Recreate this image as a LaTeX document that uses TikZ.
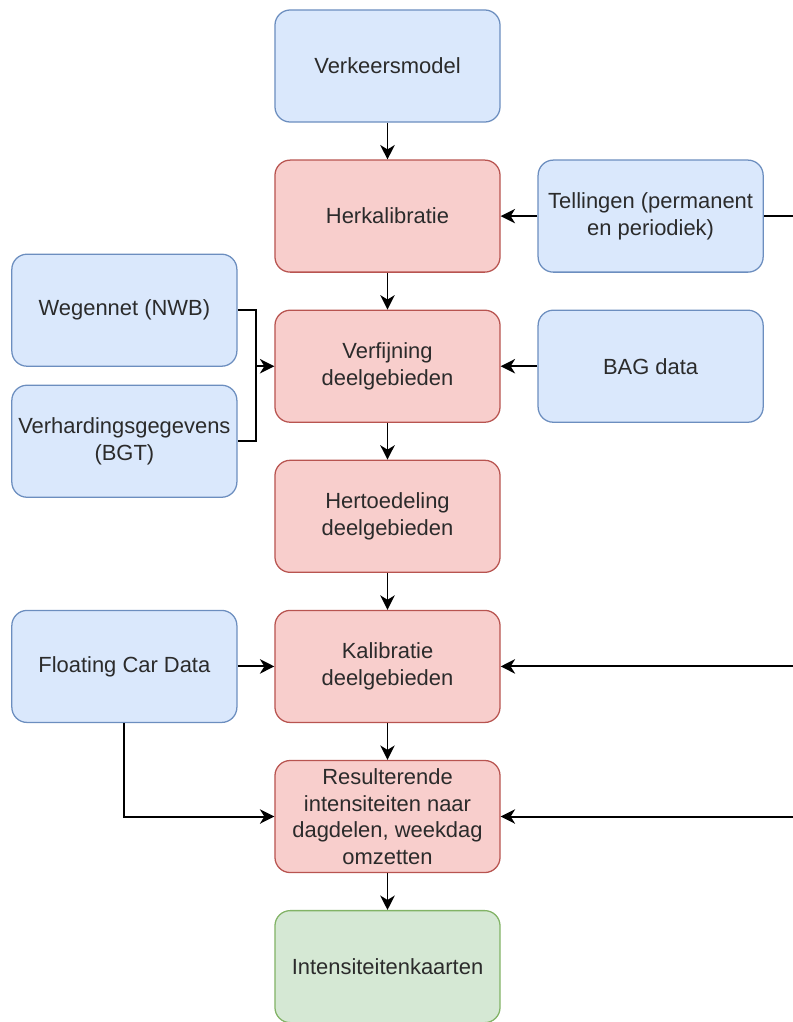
\documentclass[tikz,border=0pt]{standalone}
\usepackage{fontspec}
\setmainfont{Liberation Sans}
\usepackage{xcolor}
\usetikzlibrary{arrows.meta, positioning, calc}

\definecolor{invoerfill}{HTML}{DAE8FC}
\definecolor{invoerdraw}{HTML}{6C8EBF}
\definecolor{stapfill}{HTML}{F8CECC}
\definecolor{stapdraw}{HTML}{B85450}
\definecolor{uitvoerfill}{HTML}{D5E8D4}
\definecolor{uitvoerdraw}{HTML}{82B366}
\definecolor{tekst}{HTML}{2B2B2B}

\tikzset{
  blok/.style={rectangle, rounded corners=0.38cm, line width=.9pt,
    minimum width=5.625cm, minimum height=2.8cm, inner sep=1pt,
    align=center, text=tekst,
    font=\fontsize{15.6pt}{18.8pt}\selectfont},
  invoer/.style={blok, draw=invoerdraw, fill=invoerfill},
  stap/.style={blok, draw=stapdraw, fill=stapfill},
  uitvoer/.style={blok, draw=uitvoerdraw, fill=uitvoerfill},
  lijn/.style={draw=black, line width=1.4pt},
  pijl/.style={-{Stealth[length=3.6mm, width=3.6mm, inset=1.1mm]}, draw=black, line width=1.4pt},
}

\begin{document}
\begin{tikzpicture}[x=0.025cm, y=-0.025cm, node distance=0.92cm]
    \useasboundingbox (0,0) rectangle (793,1022);

    \node[invoer]  (verkeer)   at (387.5,66)        {Verkeersmodel};
    \node[stap]    (herkal)    [below=of verkeer]  {Herkalibratie};
    \node[stap]    (verfijn)   [below=of herkal]   {Verfijning\\deelgebieden};
    \node[stap]    (hertoed)   [below=of verfijn]  {Hertoedeling\\deelgebieden};
    \node[stap]    (kalib)     [below=of hertoed]  {Kalibratie\\deelgebieden};
    \node[stap]    (resultaat) [below=of kalib]    {Resulterende\\intensiteiten naar\\dagdelen, weekdag\\omzetten};
    \node[uitvoer] (kaarten)   [below=of resultaat] {Intensiteitenkaarten};

    \node[invoer]  (tellingen) [right=of herkal]   {Tellingen (permanent\\en periodiek)};
    \node[invoer]  (bag)       [right=of verfijn]  {BAG data};
    \node[invoer]  (wegennet)  [left=of verfijn, yshift=1.4cm]    {Wegennet (NWB)};
    \node[invoer]  (verhard)   [left=of verfijn, yshift=-1.875cm] {Verhardingsgegevens\\(BGT)};
    \node[invoer]  (fcd)       [left=of kalib]     {Floating Car Data};

    % losse uiteinden aan de rand
    \coordinate (bundel) at ($(verfijn.west)+(-0.45cm,0)$);
    \coordinate (randtel) at (tellingen.east -| 793,0);
    \coordinate (randkal) at (kalib.east -| 793,0);
    \coordinate (randres) at (resultaat.east -| 793,0);

    \draw[pijl] (verkeer)   -- (herkal);
    \draw[pijl] (herkal)    -- (verfijn);
    \draw[pijl] (verfijn)   -- (hertoed);
    \draw[pijl] (hertoed)   -- (kalib);
    \draw[pijl] (kalib)     -- (resultaat);
    \draw[pijl] (resultaat) -- (kaarten);

    \draw[pijl] (tellingen) -- (herkal);
    \draw[lijn] (randtel)   -- (tellingen);
    \draw[pijl] (bag)       -- (verfijn);
    \draw[lijn] (wegennet.east) -| (bundel) |- (verhard.east);
    \draw[pijl] (bundel)    -- (verfijn);
    \draw[pijl] (fcd)       -- (kalib);
    \draw[pijl] (fcd.south) |- (resultaat.west);
    \draw[pijl] (randkal)   -- (kalib);
    \draw[pijl] (randres)   -- (resultaat);
  \end{tikzpicture}
\end{document}
